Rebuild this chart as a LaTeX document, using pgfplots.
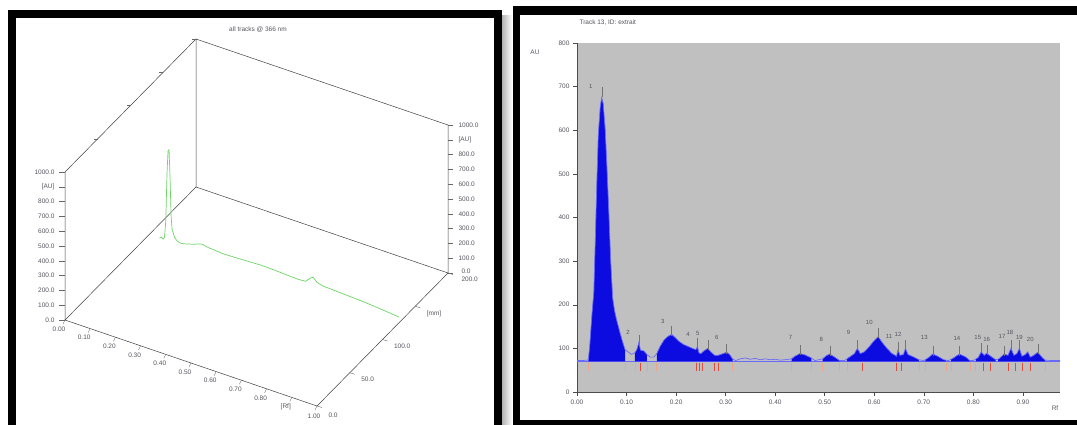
\documentclass[border=0pt]{standalone}
\usepackage{fontspec}
\setmainfont{Liberation Sans}
\usepackage{pgfplots}
\usepackage{pgfplotstable}
\pgfplotsset{compat=1.18}
\definecolor{bggray}{RGB}{192,192,192}
\definecolor{pkblue}{RGB}{12,12,225}
\definecolor{halo}{RGB}{105,105,250}
\definecolor{grn}{RGB}{110,212,100}
\definecolor{mk}{RGB}{225,75,55}
\definecolor{mkl}{RGB}{235,165,135}
\definecolor{lbl}{RGB}{85,85,95}

\pgfplotstableread{
rf au
0.000 72
0.010 72
0.020 73
0.023 74
0.026 110
0.030 175
0.034 230
0.037 350
0.040 480
0.043 590
0.047 655
0.050 675
0.053 660
0.057 600
0.061 500
0.065 390
0.068 300
0.072 215
0.076 185
0.080 165
0.084 148
0.087 135
0.092 115
0.097 97
0.103 92
0.110 86
0.117 90
0.121 98
0.125 114
0.128 96
0.135 94
0.141 86
0.148 80
0.155 80
0.161 88
0.168 105
0.175 118
0.183 127
0.191 132
0.198 125
0.206 116
0.215 109
0.225 104
0.235 99
0.240 97
0.243 104
0.246 90
0.250 88
0.256 94
0.264 100
0.270 92
0.278 84
0.285 84
0.295 88
0.302 91
0.308 86
0.314 76
0.320 72
0.330 76
0.340 78
0.350 75
0.360 77
0.370 74
0.380 76
0.390 74
0.400 75
0.410 73
0.420 74
0.433 76
0.440 82
0.450 88
0.460 85
0.473 78
0.480 72
0.488 74
0.496 76
0.503 83
0.510 87
0.520 80
0.530 72
0.540 72
0.550 80
0.560 88
0.566 100
0.572 88
0.580 92
0.590 104
0.600 118
0.608 127
0.615 115
0.625 101
0.635 89
0.645 82
0.648 96
0.652 84
0.659 86
0.663 100
0.668 86
0.680 80
0.690 74
0.700 72
0.710 79
0.718 87
0.728 82
0.740 74
0.750 72
0.760 78
0.772 87
0.785 80
0.793 72
0.800 72
0.810 79
0.816 92
0.822 84
0.827 89
0.835 82
0.845 74
0.852 76
0.862 87
0.870 84
0.876 100
0.882 84
0.888 88
0.893 100
0.898 82
0.905 86
0.910 92
0.915 80
0.922 84
0.930 91
0.940 78
0.945 73
0.960 72
0.975 72
}\sig

\begin{document}
\begin{tikzpicture}[font=\fontsize{6.5}{7.5}\selectfont]
% ---------- frames ----------
\shade[left color=black!30, right color=white] (502pt,-16pt) rectangle (512pt,-425pt);
\fill[black] (8pt,-10pt) rectangle (502pt,-425pt);
\fill[white] (16pt,-18pt) rectangle (494pt,-425pt);
\fill[black] (513pt,-6pt) rectangle (1077pt,-425pt);
\fill[white] (520pt,-15pt) rectangle (1077pt,-420pt);

% ---------- left: 3D view ----------
\node[text=lbl] at (258pt,-30pt) {all tracks @ 366 nm};
\begin{axis}[at={(65pt,-320pt)}, anchor=origin,
  x={(252pt,-86pt)}, y={(0.655pt,0.665pt)}, z={(0pt,0.148pt)},
  xmin=0, xmax=1, ymin=0, ymax=200, zmin=0, zmax=1000,
  hide axis, clip=false]
  \draw[black!75, line width=0.5pt] (axis cs:0,0,0) -- (axis cs:1,0,0) -- (axis cs:1,200,0) -- (axis cs:0,200,0) -- cycle;
  \draw[black!75, line width=0.5pt] (axis cs:0,200,0) -- (axis cs:0,200,1000) -- (axis cs:1,200,1000) -- (axis cs:1,200,0);
  \draw[black!75, line width=0.5pt] (axis cs:0,0,0) -- (axis cs:0,0,1000) -- (axis cs:0,200,1000);
  \pgfplotsinvokeforeach{0,0.1,...,1.01}{
    \draw[black!60, line width=0.4pt] (axis cs:#1,0,0) -- ++(-2pt,-4pt);
  }
  \pgfplotsinvokeforeach{0,100,...,1000}{
    \draw[black!60, line width=0.4pt] (axis cs:0,0,#1) -- ++(-6pt,0pt);
    \draw[black!60, line width=0.4pt] (axis cs:1,200,#1) -- ++(5pt,0pt);
  }
  \pgfplotsinvokeforeach{0,50,100,150,200}{
    \draw[black!60, line width=0.4pt] (axis cs:1,#1,0) -- ++(5pt,-1.5pt);
    \draw[black!60, line width=0.4pt] (axis cs:0,#1,1000) -- ++(-4pt,0pt);
  }
  \node[anchor=east, text=lbl] at ([xshift=-7pt]axis cs:0,0,1000) {1000.0};
  \node[anchor=east, text=lbl] at ([xshift=-7pt]axis cs:0,0,900) {[AU]};
  \node[anchor=east, text=lbl] at ([xshift=-7pt]axis cs:0,0,800) {800.0};
  \node[anchor=east, text=lbl] at ([xshift=-7pt]axis cs:0,0,700) {700.0};
  \node[anchor=east, text=lbl] at ([xshift=-7pt]axis cs:0,0,600) {600.0};
  \node[anchor=east, text=lbl] at ([xshift=-7pt]axis cs:0,0,500) {500.0};
  \node[anchor=east, text=lbl] at ([xshift=-7pt]axis cs:0,0,400) {400.0};
  \node[anchor=east, text=lbl] at ([xshift=-7pt]axis cs:0,0,300) {300.0};
  \node[anchor=east, text=lbl] at ([xshift=-7pt]axis cs:0,0,200) {200.0};
  \node[anchor=east, text=lbl] at ([xshift=-7pt]axis cs:0,0,100) {100.0};
  \node[anchor=east, text=lbl] at ([xshift=-7pt]axis cs:0,0,0) {0.0};
  \node[anchor=west, text=lbl] at ([xshift=7pt]axis cs:1,200,1000) {1000.0};
  \node[anchor=west, text=lbl] at ([xshift=7pt]axis cs:1,200,900) {[AU]};
  \node[anchor=west, text=lbl] at ([xshift=7pt]axis cs:1,200,800) {800.0};
  \node[anchor=west, text=lbl] at ([xshift=7pt]axis cs:1,200,700) {700.0};
  \node[anchor=west, text=lbl] at ([xshift=7pt]axis cs:1,200,600) {600.0};
  \node[anchor=west, text=lbl] at ([xshift=7pt]axis cs:1,200,500) {500.0};
  \node[anchor=west, text=lbl] at ([xshift=7pt]axis cs:1,200,400) {400.0};
  \node[anchor=west, text=lbl] at ([xshift=7pt]axis cs:1,200,300) {300.0};
  \node[anchor=west, text=lbl] at ([xshift=7pt]axis cs:1,200,200) {200.0};
  \node[anchor=west, text=lbl] at ([xshift=7pt]axis cs:1,200,100) {100.0};
  \node[anchor=west, text=lbl] at ([xshift=10pt,yshift=2pt]axis cs:1,200,0) {0.0};
  \node[text=lbl] at ([xshift=-6pt,yshift=-9pt]axis cs:0,0,0) {0.00};
  \node[text=lbl] at ([xshift=-6pt,yshift=-9pt]axis cs:0.1,0,0) {0.10};
  \node[text=lbl] at ([xshift=-6pt,yshift=-9pt]axis cs:0.2,0,0) {0.20};
  \node[text=lbl] at ([xshift=-6pt,yshift=-9pt]axis cs:0.3,0,0) {0.30};
  \node[text=lbl] at ([xshift=-6pt,yshift=-9pt]axis cs:0.4,0,0) {0.40};
  \node[text=lbl] at ([xshift=-6pt,yshift=-9pt]axis cs:0.5,0,0) {0.50};
  \node[text=lbl] at ([xshift=-6pt,yshift=-9pt]axis cs:0.6,0,0) {0.60};
  \node[text=lbl] at ([xshift=-6pt,yshift=-9pt]axis cs:0.7,0,0) {0.70};
  \node[text=lbl] at ([xshift=-6pt,yshift=-9pt]axis cs:0.8,0,0) {0.80};
  \node[text=lbl] at ([xshift=-6pt,yshift=-9pt]axis cs:0.9,0,0) {[Rf]};
  \node[text=lbl] at ([xshift=-3pt,yshift=-10pt]axis cs:1,0,0) {1.00};
  \node[anchor=west, text=lbl] at ([xshift=8pt,yshift=-9pt]axis cs:1,0,0) {0.0};
  \node[anchor=west, text=lbl] at ([xshift=8pt,yshift=-7pt]axis cs:1,50,0) {50.0};
  \node[anchor=west, text=lbl] at ([xshift=8pt,yshift=-7pt]axis cs:1,100,0) {100.0};
  \node[anchor=west, text=lbl] at ([xshift=8pt,yshift=-8pt]axis cs:1,150,0) {[mm]};
  \node[anchor=west, text=lbl] at ([xshift=10pt,yshift=-6pt]axis cs:1,200,0) {200.0};
  \addplot3[grn, line width=0.7pt] coordinates {
    (0.050,125,20) (0.058,125,32) (0.064,125,22) (0.070,125,40) (0.075,125,150)
    (0.080,125,480) (0.084,125,630) (0.088,125,640) (0.092,125,450) (0.096,125,200)
    (0.100,125,110) (0.110,125,60) (0.120,125,42) (0.135,125,35) (0.150,125,40)
    (0.170,125,50) (0.190,125,60) (0.205,125,72) (0.220,125,78) (0.240,125,70)
    (0.270,125,66) (0.300,125,62) (0.350,125,64) (0.400,125,68) (0.450,125,72)
    (0.500,125,70) (0.550,125,66) (0.600,125,62) (0.630,125,66) (0.650,125,100)
    (0.660,125,110) (0.675,125,85) (0.700,125,74) (0.750,125,70) (0.800,125,66)
    (0.850,125,62) (0.900,125,56) (0.950,125,48) (1.000,125,40)};
\end{axis}

% ---------- right: densitogram ----------
\node[anchor=west, text=lbl] at (576pt,-23pt) {Track 13, ID: extrait};
\node[text=lbl] at (535pt,-52pt) {AU};
\node[text=lbl] at (1055pt,-408pt) {Rf};
\begin{axis}[at={(577pt,-392pt)}, anchor=south west, scale only axis,
  width=483pt, height=349pt,
  xmin=0, xmax=0.975, ymin=0, ymax=800,
  axis background/.style={fill=bggray},
  axis x line*=bottom, axis y line*=left,
  axis line style={-, black!70, line width=0.6pt},
  xtick={0,0.1,0.2,0.3,0.4,0.5,0.6,0.7,0.8,0.9},
  xticklabels={0.00,0.10,0.20,0.30,0.40,0.50,0.60,0.70,0.80,0.90},
  ytick={0,100,...,800},
  /pgf/number format/assume math mode=true,
  tick align=outside, major tick length=4pt,
  tick style={black!70, line width=0.5pt},
  tick label style={font=\fontsize{6.5}{7.5}\selectfont, text=lbl},
  clip=false]
  \addplot[halo, line width=0.5pt] coordinates {(0,70) (0.975,70)};
  \addplot[fill=pkblue, draw=none] coordinates {(0.023,70)(0.023,74)(0.026,110)(0.030,175)(0.034,230)(0.037,350)(0.040,480)(0.043,590)(0.047,655)(0.050,675)(0.053,660)(0.057,600)(0.061,500)(0.065,390)(0.068,300)(0.072,215)(0.076,185)(0.080,165)(0.084,148)(0.087,135)(0.092,115)(0.097,97)(0.097,70)};
  \addplot[fill=pkblue, draw=none] coordinates {(0.117,70)(0.117,90)(0.121,98)(0.125,114)(0.128,96)(0.135,94)(0.141,86)(0.141,70)};
  \addplot[fill=pkblue, draw=none] coordinates {(0.161,70)(0.161,88)(0.168,105)(0.175,118)(0.183,127)(0.191,132)(0.198,125)(0.206,116)(0.215,109)(0.225,104)(0.235,99)(0.240,97)(0.243,104)(0.246,90)(0.250,88)(0.256,94)(0.264,100)(0.270,92)(0.278,84)(0.285,84)(0.295,88)(0.302,91)(0.308,86)(0.314,76)(0.314,70)};
  \addplot[fill=pkblue, draw=none] coordinates {(0.433,70)(0.433,76)(0.440,82)(0.450,88)(0.460,85)(0.473,78)(0.473,70)};
  \addplot[fill=pkblue, draw=none] coordinates {(0.496,70)(0.496,76)(0.503,83)(0.510,87)(0.520,80)(0.530,72)(0.530,70)};
  \addplot[fill=pkblue, draw=none] coordinates {(0.545,70)(0.545,77)(0.550,80)(0.560,88)(0.566,100)(0.572,88)(0.580,92)(0.590,104)(0.600,118)(0.608,127)(0.615,115)(0.625,101)(0.635,89)(0.645,82)(0.648,96)(0.652,84)(0.659,86)(0.663,100)(0.668,86)(0.680,80)(0.690,74)(0.690,70)};
  \addplot[fill=pkblue, draw=none] coordinates {(0.703,70)(0.703,74)(0.710,79)(0.718,87)(0.728,82)(0.740,74)(0.745,72)(0.745,70)};
  \addplot[fill=pkblue, draw=none] coordinates {(0.755,70)(0.755,75)(0.760,78)(0.772,87)(0.785,80)(0.793,72)(0.793,70)};
  \addplot[fill=pkblue, draw=none] coordinates {(0.805,70)(0.805,76)(0.810,79)(0.816,92)(0.822,84)(0.827,89)(0.835,82)(0.845,74)(0.845,70)};
  \addplot[fill=pkblue, draw=none] coordinates {(0.850,70)(0.850,75)(0.852,76)(0.862,87)(0.870,84)(0.876,100)(0.882,84)(0.888,88)(0.893,100)(0.898,82)(0.905,86)(0.910,92)(0.915,80)(0.922,84)(0.930,91)(0.940,78)(0.945,73)(0.945,70)};
  \addplot[halo, line width=0.7pt] table[x=rf, y=au] {\sig};
  \addplot[only marks, mark=|, mark size=5pt, black!55, line width=0.3pt] coordinates {
    (0.050,688) (0.125,120) (0.191,140) (0.243,112) (0.264,108) (0.302,99)
    (0.450,96) (0.510,95) (0.566,108) (0.608,135) (0.648,104) (0.663,108)
    (0.718,95) (0.772,95) (0.816,100) (0.827,97) (0.862,95) (0.876,108)
    (0.893,108) (0.930,99)};
  \addplot[only marks, mark=|, mark size=4pt, mkl, line width=0.6pt] coordinates {
    (0.023,58) (0.097,58) (0.117,58) (0.141,58) (0.161,58)
    (0.314,58) (0.433,58) (0.473,58) (0.496,58) (0.530,58) (0.545,58)
    (0.690,58) (0.703,58) (0.745,58) (0.755,58) (0.793,58) (0.805,58)
    (0.945,58)};
  \addplot[only marks, mark=|, mark size=4pt, mk, line width=0.6pt] coordinates {
    (0.128,58) (0.240,58) (0.246,58) (0.252,58) (0.278,58) (0.285,58)
    (0.575,58) (0.645,58) (0.655,58)
    (0.820,58) (0.835,58) (0.870,58) (0.885,58) (0.898,58) (0.915,58)};
  \begin{scope}[every node/.style={text=lbl, font=\fontsize{6}{7}\selectfont}]
  \node at (axis cs:0.028,700) {1};
  \node at (axis cs:0.103,136) {2};
  \node at (axis cs:0.173,162) {3};
  \node at (axis cs:0.224,131) {4};
  \node at (axis cs:0.244,134) {5};
  \node at (axis cs:0.282,124) {6};
  \node at (axis cs:0.431,126) {7};
  \node at (axis cs:0.493,120) {8};
  \node at (axis cs:0.548,137) {9};
  \node at (axis cs:0.590,159) {10};
  \node at (axis cs:0.630,128) {11};
  \node at (axis cs:0.648,131) {12};
  \node at (axis cs:0.701,124) {13};
  \node at (axis cs:0.767,122) {14};
  \node at (axis cs:0.809,124) {15};
  \node at (axis cs:0.827,121) {16};
  \node at (axis cs:0.858,128) {17};
  \node at (axis cs:0.874,137) {18};
  \node at (axis cs:0.893,126) {19};
  \node at (axis cs:0.915,120) {20};
  \end{scope}
\end{axis}
\pgfresetboundingbox
\useasboundingbox (0,0) rectangle (1077pt,-425pt);
\end{tikzpicture}
\end{document}
